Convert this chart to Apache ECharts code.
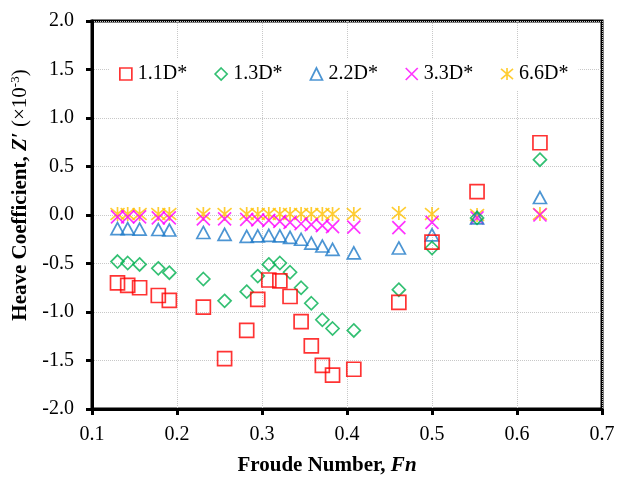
<!DOCTYPE html>
<html>
<head>
<meta charset="utf-8">
<script src="https://cdn.jsdelivr.net/npm/echarts@6/dist/echarts.min.js"></script>
<style>
html,body{margin:0;padding:0;background:#fff;}
#chart{width:631px;height:481px;}
</style>
</head>
<body>
<div id="chart"></div>
<script>
// Froude numbers (shared x positions)
var fn = [0.130, 0.142, 0.156, 0.178, 0.191, 0.231, 0.256, 0.282, 0.295, 0.308, 0.321, 0.333, 0.346, 0.358, 0.371, 0.383, 0.408, 0.461, 0.500, 0.553, 0.627];
// Heave coefficient Z' (x10^-3)
var d11 = [-0.70, -0.725, -0.75, -0.83, -0.88, -0.95, -1.48, -1.19, -0.87, -0.67, -0.68, -0.84, -1.10, -1.35, -1.55, -1.65, -1.59, -0.90, -0.28, 0.24, 0.745];
var d13 = [-0.48, -0.495, -0.51, -0.55, -0.595, -0.66, -0.885, -0.79, -0.63, -0.51, -0.495, -0.59, -0.75, -0.91, -1.08, -1.17, -1.19, -0.77, -0.34, -0.03, 0.57];
var d22 = [-0.14, -0.14, -0.145, -0.15, -0.155, -0.18, -0.20, -0.22, -0.215, -0.21, -0.215, -0.23, -0.25, -0.29, -0.32, -0.355, -0.39, -0.34, -0.205, -0.03, 0.18];
var d33 = [-0.02, -0.02, -0.02, -0.03, -0.03, -0.04, -0.04, -0.045, -0.05, -0.055, -0.065, -0.075, -0.09, -0.10, -0.11, -0.12, -0.125, -0.13, -0.075, -0.03, 0.0];
var d66 = [0.01, 0.01, 0.01, 0.01, 0.01, 0.01, 0.01, 0.01, 0.01, 0.01, 0.01, 0.01, 0.01, 0.01, 0.01, 0.01, 0.01, 0.02, 0.01, 0.0, 0.01];
var seriesNames = ['1.1D*', '1.3D*', '2.2D*', '3.3D*', '6.6D*'];
var xTicks = [0.1, 0.2, 0.3, 0.4, 0.5, 0.6, 0.7];
var yTicks = [-2.0, -1.5, -1.0, -0.5, 0.0, 0.5, 1.0, 1.5, 2.0];

var SERIF = '"Liberation Serif", "Times New Roman", "DejaVu Serif", serif';
function pairs(xs, ys) { return xs.map(function (x, i) { return [x, ys[i]]; }); }

var styles = [
  { symbol: 'rect', size: 14, color: '#FF0000' },
  { symbol: 'diamond', size: 13, color: '#00B050' },
  { symbol: 'triangle', size: [13, 12], color: '#1F7BC8' },
  { symbol: 'path://M0,0L10,10M0,10L10,0', size: 13, color: '#FF00FF' },
  { symbol: 'path://M5,0L5,10M0,0.8L10,9.2M0,9.2L10,0.8', size: 14, color: '#FFC000' }
];
var datas = [d11, d13, d22, d33, d66];

var series = seriesNames.map(function (nm, k) {
  var s = styles[k];
  return {
    name: nm,
    type: 'scatter',
    data: pairs(fn, datas[k]),
    symbol: s.symbol,
    symbolSize: s.size,
    itemStyle: { color: 'rgba(255,255,255,0)', borderColor: s.color, borderWidth: 1.7 },
    emphasis: { disabled: true },
    z: 10 - k
  };
});

var chart = echarts.init(document.getElementById('chart'), null, { renderer: 'canvas' });
chart.setOption({
  animation: false,
  backgroundColor: '#fff',
  grid: { left: 92, right: 29, top: 21, bottom: 70, show: true, borderColor: '#000', borderWidth: 3, backgroundColor: 'transparent' },
  legend: {
    data: seriesNames,
    left: 109, top: 58,
    itemWidth: 12, itemHeight: 12, itemGap: 27,
    backgroundColor: '#fff',
    padding: [6, 10, 6, 10],
    textStyle: { fontFamily: SERIF, fontSize: 20, color: '#000', padding: [0, 0, 0, 1] },
    itemStyle: { borderWidth: 1.7 }
  },
  xAxis: {
    type: 'value', min: 0.1, max: 0.7, interval: 0.1,
    name: '{b|Froude Number, }{bi|Fn}',
    nameLocation: 'middle', nameGap: 46,
    nameTextStyle: {
      padding: [0, 40, 0, 0],
      rich: {
        b: { fontFamily: SERIF, fontSize: 21, fontWeight: 'bold', color: '#000' },
        bi: { fontFamily: SERIF, fontSize: 21, fontWeight: 'bold', fontStyle: 'italic', color: '#000' }
      }
    },
    axisLine: { show: true, onZero: false, lineStyle: { color: '#000', width: 3 } },
    axisTick: { show: true, inside: false, length: 6, lineStyle: { color: '#000', width: 3 } },
    axisLabel: { fontFamily: SERIF, fontSize: 20, color: '#000', margin: 16, formatter: function (v) { return v.toFixed(1); } },
    splitLine: { show: true, lineStyle: { color: '#c8c8c8', type: 'dotted', width: 1 } }
  },
  yAxis: {
    type: 'value', min: -2, max: 2, interval: 0.5,
    name: '{b|Heave Coefficient, }{bi|Z\u2032}{n| (\u00d710}{sup|-3}{n|)}',
    nameLocation: 'middle', nameGap: 50, nameRotate: 90,
    nameTextStyle: {
      padding: [0, 0, 0, 40],
      rich: {
        b: { fontFamily: SERIF, fontSize: 21, fontWeight: 'bold', color: '#000', lineHeight: 24 },
        bi: { fontFamily: SERIF, fontSize: 21, fontWeight: 'bold', fontStyle: 'italic', color: '#000', lineHeight: 24 },
        n: { fontFamily: SERIF, fontSize: 21, color: '#000', lineHeight: 24 },
        sup: { fontFamily: SERIF, fontSize: 13, color: '#000', verticalAlign: 'top' }
      }
    },
    axisLine: { show: true, onZero: false, lineStyle: { color: '#000', width: 3 } },
    axisTick: { show: true, inside: false, length: 6, lineStyle: { color: '#000', width: 3 } },
    axisLabel: { fontFamily: SERIF, fontSize: 20, color: '#000', margin: 18, formatter: function (v) { return v.toFixed(1); } },
    splitLine: { show: true, lineStyle: { color: '#c8c8c8', type: 'dotted', width: 1 } }
  },
  series: series
});
</script>
</body>
</html>
